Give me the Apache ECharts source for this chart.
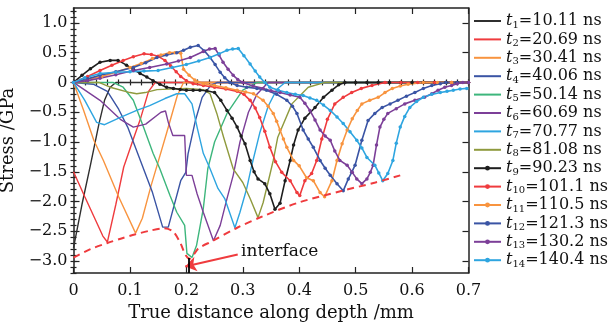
<!DOCTYPE html>
<html>
<head>
<meta charset="utf-8">
<script src="https://cdn.jsdelivr.net/npm/echarts@6/dist/echarts.min.js"></script>
<style>
html, body { margin: 0; padding: 0; background: #fff; }
#chart { width: 610px; height: 322px; }
</style>
</head>
<body>
<div id="chart"></div>
<script>
// arrival times of the snapshots (ns)
var times = ['10.11', '20.69', '30.41', '40.06', '50.14', '60.69', '70.77',
             '81.08', '90.23', '101.1', '110.5', '121.3', '130.2', '140.4'];
var colors = ['#2f2f2f', '#ef3b3e', '#f8943f', '#3a54a4', '#3db67c', '#7c3f98', '#2ea5e0',
              '#8f9a3e', '#1e1e1e', '#ef3b3e', '#f8943f', '#3a54a4', '#7c3f98', '#2ea5e0'];

var xLabels = [0, 0.1, 0.2, 0.3, 0.4, 0.5, 0.6, 0.7];
var yLabels = [-3, -2.5, -2, -1.5, -1, -0.5, 0, 0.5, 1];

// stress profiles [depth mm, stress GPa]
var t1 = [[0, -2.78], [0.015, -2.05], [0.03, -1.39], [0.045, -0.7], [0.055, -0.3], [0.065, -0.08], [0.075, 0], [0.7, 0]];
var t2 = [[0, -1.5], [0.02, -1.92], [0.04, -2.33], [0.052, -2.58], [0.06, -2.68], [0.075, -2.05], [0.089, -1.42],
          [0.105, -0.98], [0.119, -0.6], [0.133, -0.15], [0.145, 0], [0.7, 0]];
var t3 = [[0, 0], [0.018, -0.47], [0.036, -0.97], [0.053, -1.31], [0.08, -1.92], [0.11, -2.53], [0.122, -2.28],
          [0.137, -1.75], [0.151, -1.3], [0.165, -0.85], [0.177, -0.45], [0.184, -0.22], [0.195, 0], [0.7, 0]];
var t4 = [[0, 0], [0.035, -0.03], [0.06, -0.15], [0.08, -0.45], [0.096, -0.75], [0.118, -1.3], [0.14, -1.85],
          [0.158, -2.43], [0.168, -2.43], [0.19, -1.65], [0.199, -1.51], [0.203, -1.2], [0.216, -0.64],
          [0.228, -0.25], [0.243, -0.05], [0.255, 0], [0.7, 0]];
var t5 = [[0, 0], [0.07, 0], [0.088, -0.08], [0.106, -0.3], [0.124, -0.75], [0.141, -1.19], [0.153, -1.45],
          [0.171, -1.9], [0.183, -2.18], [0.197, -2.4], [0.2, -2.43], [0.201, -2.87], [0.21, -2.94],
          [0.218, -2.74], [0.23, -2.12], [0.238, -1.45], [0.25, -1.0], [0.272, -0.52], [0.3, -0.13], [0.325, 0], [0.7, 0]];
var t6 = [[0, 0], [0.047, -0.3], [0.083, -0.62], [0.106, -0.75], [0.128, -0.7], [0.155, -0.5], [0.163, -0.48],
          [0.168, -0.67], [0.176, -0.89], [0.197, -0.89], [0.2, -1.56], [0.21, -1.56], [0.219, -1.87],
          [0.23, -2.18], [0.248, -2.66], [0.26, -2.4], [0.272, -1.95], [0.283, -1.56], [0.295, -1.0],
          [0.31, -0.5], [0.325, -0.2], [0.345, 0], [0.7, 0]];
var t7 = [[0, 0], [0.02, -0.3], [0.041, -0.67], [0.055, -0.71], [0.082, -0.59], [0.112, -0.47], [0.135, -0.39],
          [0.162, -0.27], [0.183, -0.19], [0.197, -0.19], [0.21, -0.36], [0.219, -0.75], [0.23, -1.19],
          [0.242, -1.45], [0.256, -1.78], [0.268, -1.95], [0.286, -2.44], [0.295, -2.18], [0.307, -1.78],
          [0.316, -1.39], [0.33, -0.85], [0.345, -0.4], [0.36, -0.12], [0.375, 0], [0.7, 0]];
var t8 = [[0, 0], [0.045, 0], [0.065, -0.08], [0.1, -0.17], [0.112, -0.19], [0.127, -0.17], [0.148, -0.12],
          [0.2, -0.1], [0.23, -0.12], [0.242, -0.19], [0.254, -0.52], [0.266, -0.92], [0.283, -1.45],
          [0.3, -1.68], [0.313, -1.95], [0.327, -2.27], [0.336, -2.02], [0.348, -1.55], [0.354, -1.31],
          [0.362, -0.92], [0.387, -0.36], [0.416, -0.08], [0.446, 0], [0.7, 0]];
var t9 = [[0, 0], [0.015, 0.12], [0.03, 0.23], [0.047, 0.34], [0.065, 0.37], [0.079, 0.37], [0.094, 0.29],
          [0.106, 0.22], [0.118, 0.15], [0.13, 0.09], [0.141, 0.03], [0.153, -0.03], [0.165, -0.08],
          [0.177, -0.1], [0.189, -0.12], [0.2, -0.13], [0.212, -0.13], [0.224, -0.13], [0.236, -0.14],
          [0.25, -0.17], [0.261, -0.3], [0.272, -0.47], [0.281, -0.6], [0.29, -0.75], [0.297, -0.9],
          [0.304, -1.03], [0.313, -1.31], [0.32, -1.5], [0.327, -1.62], [0.339, -1.7], [0.348, -1.87],
          [0.357, -2.13], [0.366, -2.03], [0.375, -1.65], [0.384, -1.31], [0.39, -1.05], [0.398, -0.8],
          [0.41, -0.6], [0.428, -0.42], [0.443, -0.25], [0.458, -0.13], [0.47, -0.04], [0.481, 0],
          [0.5, 0], [0.52, 0], [0.54, 0], [0.56, 0], [0.58, 0], [0.6, 0], [0.62, 0], [0.64, 0], [0.66, 0], [0.68, 0], [0.7, 0]];
var t10 = [[0, 0], [0.025, 0.1], [0.047, 0.2], [0.068, 0.29], [0.088, 0.37], [0.106, 0.43], [0.125, 0.48],
           [0.138, 0.47], [0.15, 0.44], [0.162, 0.37], [0.172, 0.28], [0.182, 0.18], [0.19, 0.1],
           [0.2, 0.03], [0.212, -0.02], [0.23, -0.05], [0.25, -0.08], [0.27, -0.11], [0.29, -0.15],
           [0.302, -0.2], [0.313, -0.3], [0.322, -0.43], [0.33, -0.59], [0.339, -0.82], [0.348, -1.09],
           [0.358, -1.33], [0.369, -1.51], [0.384, -1.65], [0.396, -1.85], [0.401, -1.9], [0.41, -1.65],
           [0.422, -1.53], [0.431, -1.31], [0.44, -0.95], [0.45, -0.62], [0.463, -0.36], [0.478, -0.25],
           [0.493, -0.17], [0.51, -0.1], [0.529, -0.05], [0.552, 0], [0.58, 0], [0.61, 0], [0.64, 0], [0.67, 0], [0.7, 0]];
var t11 = [[0, 0], [0.025, 0.05], [0.05, 0.1], [0.075, 0.17], [0.1, 0.25], [0.12, 0.32], [0.14, 0.4],
           [0.155, 0.46], [0.17, 0.5], [0.18, 0.5], [0.19, 0.49], [0.195, 0.22], [0.205, 0.12], [0.215, 0.04],
           [0.23, -0.02], [0.25, -0.05], [0.27, -0.09], [0.29, -0.13], [0.305, -0.16], [0.319, -0.19],
           [0.336, -0.3], [0.345, -0.4], [0.354, -0.52], [0.36, -0.65], [0.366, -0.8], [0.372, -0.95],
           [0.378, -1.09], [0.39, -1.31], [0.4, -1.4], [0.413, -1.6], [0.425, -1.65], [0.437, -1.85],
           [0.445, -1.92], [0.458, -1.65], [0.467, -1.31], [0.476, -1.03], [0.485, -0.8], [0.494, -0.61],
           [0.503, -0.47], [0.511, -0.36], [0.525, -0.3], [0.54, -0.25], [0.552, -0.17], [0.565, -0.1],
           [0.579, -0.06], [0.593, -0.03], [0.62, 0], [0.645, 0], [0.67, 0], [0.7, 0]];
var t12 = [[0, 0], [0.025, 0.06], [0.047, 0.12], [0.075, 0.18], [0.106, 0.25], [0.128, 0.33], [0.148, 0.42],
           [0.165, 0.46], [0.183, 0.5], [0.195, 0.54], [0.207, 0.59], [0.221, 0.62], [0.232, 0.53],
           [0.242, 0.42], [0.251, 0.3], [0.26, 0.17], [0.268, 0.08], [0.277, 0], [0.29, -0.05],
           [0.307, -0.08], [0.325, -0.1], [0.342, -0.13], [0.36, -0.2], [0.378, -0.3], [0.388, -0.4],
           [0.396, -0.52], [0.407, -0.8], [0.416, -0.95], [0.425, -1.09], [0.437, -1.31], [0.446, -1.44],
           [0.455, -1.56], [0.467, -1.7], [0.478, -1.82], [0.487, -1.62], [0.493, -1.51], [0.499, -1.39],
           [0.511, -0.97], [0.522, -0.64], [0.534, -0.52], [0.547, -0.42], [0.561, -0.36], [0.575, -0.3],
           [0.59, -0.23], [0.605, -0.17], [0.62, -0.1], [0.635, -0.05], [0.65, -0.02], [0.66, 0], [0.68, 0], [0.7, 0]];
var t13 = [[0, 0], [0.025, 0.03], [0.047, 0.07], [0.075, 0.13], [0.106, 0.2], [0.135, 0.25], [0.165, 0.31],
           [0.186, 0.36], [0.207, 0.42], [0.23, 0.52], [0.241, 0.56], [0.251, 0.57], [0.258, 0.46],
           [0.265, 0.34], [0.274, 0.22], [0.283, 0.12], [0.291, 0.05], [0.3, 0], [0.318, -0.06],
           [0.336, -0.1], [0.35, -0.14], [0.366, -0.17], [0.384, -0.21], [0.401, -0.25], [0.41, -0.35],
           [0.419, -0.47], [0.428, -0.63], [0.437, -0.8], [0.446, -0.9], [0.455, -0.97], [0.463, -1.15],
           [0.472, -1.31], [0.485, -1.39], [0.494, -1.51], [0.502, -1.62], [0.511, -1.7], [0.52, -1.62],
           [0.526, -1.51], [0.531, -1.39], [0.537, -1.05], [0.543, -0.75], [0.55, -0.62], [0.557, -0.52],
           [0.572, -0.44], [0.587, -0.36], [0.605, -0.3], [0.622, -0.25], [0.635, -0.19], [0.646, -0.13],
           [0.658, -0.08], [0.67, -0.05], [0.68, -0.02], [0.69, 0], [0.7, 0]];
var t14 = [[0, 0], [0.02, 0.08], [0.047, 0.15], [0.075, 0.17], [0.1, 0.18], [0.125, 0.19], [0.15, 0.2],
           [0.175, 0.25], [0.2, 0.3], [0.222, 0.36], [0.242, 0.42], [0.258, 0.48], [0.272, 0.54],
           [0.282, 0.56], [0.292, 0.57], [0.302, 0.45], [0.313, 0.31], [0.322, 0.19], [0.33, 0.09],
           [0.339, 0], [0.348, -0.08], [0.363, -0.13], [0.378, -0.17], [0.393, -0.2], [0.407, -0.22],
           [0.419, -0.26], [0.431, -0.3], [0.443, -0.38], [0.455, -0.47], [0.467, -0.58], [0.478, -0.69],
           [0.49, -0.83], [0.502, -0.97], [0.511, -1.1], [0.52, -1.26], [0.534, -1.39], [0.541, -1.52],
           [0.548, -1.65], [0.557, -1.53], [0.566, -1.31], [0.572, -1.02], [0.579, -0.75], [0.587, -0.57],
           [0.596, -0.42], [0.608, -0.32], [0.62, -0.25], [0.635, -0.2], [0.65, -0.17], [0.662, -0.15],
           [0.673, -0.13], [0.685, -0.11], [0.697, -0.1]];
// peak-stress envelope (dashed)
var envelope = [[0, -2.94], [0.03, -2.8], [0.059, -2.7], [0.085, -2.62], [0.11, -2.55], [0.135, -2.49],
                [0.16, -2.45], [0.176, -2.5], [0.189, -2.69], [0.197, -2.87], [0.202, -2.94], [0.206, -2.96],
                [0.221, -2.79], [0.247, -2.66], [0.29, -2.44], [0.335, -2.25], [0.398, -2.02],
                [0.476, -1.82], [0.535, -1.68], [0.579, -1.56]];

var profiles = [t1, t2, t3, t4, t5, t6, t7, t8, t9, t10, t11, t12, t13, t14];

var serif = 'DejaVu Serif';
var chart = echarts.init(document.getElementById('chart'));

var yMinor = [];
for (var v = -32; v <= 12; v++) yMinor.push(v / 10);
var xMinor = [];
for (var k = 0; k <= 35; k++) xMinor.push(k / 50);

function fmt(v) {
    if (Math.abs(v) < 1e-9) return '0';
    return (v < 0 ? '\u2212' : '') + Math.abs(v).toFixed(1);
}

function tickAxis(pos, isX, values, len, labels) {
    var ax = {
        type: 'value',
        position: pos,
        min: isX ? 0 : -3.2,
        max: isX ? 0.7 : 1.25,
        splitLine: { show: false },
        axisLine: { show: true, onZero: false, lineStyle: { color: '#222', width: 1.5 } },
        axisTick: { show: true, inside: true, length: len, customValues: values,
                    lineStyle: { color: '#222', width: 1.2 } },
        axisLabel: { show: !!labels }
    };
    if (labels) {
        ax.axisLabel = { show: true, customValues: labels, formatter: fmt, color: '#111',
                         fontFamily: serif, fontSize: 16, margin: isX ? 10 : 6 };
    }
    return ax;
}

var series = profiles.map(function (d, i) {
    var marked = i >= 8;
    return {
        name: 't' + (i + 1),
        type: 'line',
        data: d,
        symbol: marked ? 'circle' : 'none',
        symbolSize: 3.5,
        showSymbol: marked,
        color: colors[i],
        lineStyle: { width: marked ? 1.6 : 1.4, color: colors[i] },
        itemStyle: { color: colors[i] },
        z: marked ? 3 : 2,
        animation: false
    };
});

series.push({
    name: 'envelope',
    type: 'line',
    data: envelope,
    symbol: 'none',
    smooth: 0.3,
    lineStyle: { color: '#ef3b3e', width: 2, type: [7, 5] },
    z: 4,
    animation: false,
    markLine: {
        silent: true,
        animation: false,
        symbol: ['none', 'arrow'],
        symbolSize: 11,
        label: { show: false },
        lineStyle: { color: '#ef3b3e', width: 2, type: 'solid' },
        data: [[{ coord: [0.291, -2.89] }, { coord: [0.198, -3.09] }]]
    }
});
// interface mark
series.push({
    name: 'interface',
    type: 'line',
    data: [],
    animation: false,
    markLine: {
        silent: true,
        animation: false,
        symbol: ['none', 'none'],
        label: { show: false },
        lineStyle: { color: '#000', width: 1.8, type: 'solid' },
        data: [[{ coord: [0.205, -2.95] }, { coord: [0.205, -3.2] }]]
    }
});

var majorX = xLabels;
var majorY = yLabels;

chart.setOption({
    backgroundColor: '#fff',
    animation: false,
    grid: { left: 73.5, right: 141.5, top: 8, bottom: 49, containLabel: false, outerBoundsMode: 'none' },
    legend: {
        data: series.slice(0, 14).map(function (s, i) {
            return i < 8 ? { name: s.name, itemStyle: { opacity: 0 } } : { name: s.name };
        }),
        orient: 'vertical',
        left: 468,
        top: 8,
        itemWidth: 27,
        itemHeight: 6,
        itemGap: 1.4,
        formatter: function (name) {
            var i = +name.slice(1);
            return '{i|t}{s|' + i + '}{n|=' + times[i - 1] + ' ns}';
        },
        textStyle: {
            color: '#111',
            rich: {
                i: { fontFamily: serif, fontStyle: 'italic', fontSize: 16, lineHeight: 18 },
                s: { fontFamily: serif, fontSize: 10, lineHeight: 9, verticalAlign: 'bottom' },
                n: { fontFamily: serif, fontSize: 16, lineHeight: 18 }
            }
        }
    },
    xAxis: [
        Object.assign(tickAxis('bottom', true, majorX, 6, xLabels), {
            name: 'True distance along depth /mm', nameLocation: 'middle', nameGap: 31,
            nameTextStyle: { fontFamily: serif, fontSize: 18, color: '#111' }
        }),
        tickAxis('top', true, majorX, 6),
        Object.assign(tickAxis('bottom', true, xMinor, 3), { axisLine: { show: false } }),
        Object.assign(tickAxis('top', true, xMinor, 3), { axisLine: { show: false } })
    ],
    yAxis: [
        Object.assign(tickAxis('left', false, majorY, 6, yLabels), {
            name: 'Stress /GPa', nameLocation: 'middle', nameGap: 43, nameRotate: 90,
            nameTextStyle: { fontFamily: serif, fontSize: 18, color: '#111' }
        }),
        tickAxis('right', false, majorY, 6),
        Object.assign(tickAxis('left', false, yMinor, 3), { axisLine: { show: false } }),
        Object.assign(tickAxis('right', false, yMinor, 3), { axisLine: { show: false } })
    ],
    graphic: [{
        type: 'text',
        left: 241,
        top: 243,
        style: { text: 'interface', fontFamily: serif, fontSize: 17, fill: '#111' }
    }],
    series: series
});
</script>
</body>
</html>
